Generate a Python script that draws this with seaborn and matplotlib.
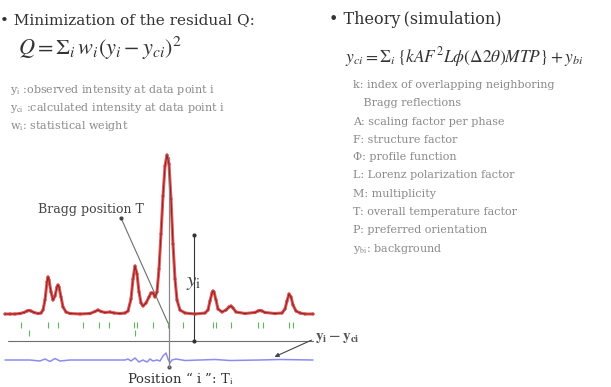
import numpy as np
import pandas as pd
import matplotlib
matplotlib.use("Agg")
import matplotlib.pyplot as plt
import seaborn as sns

# ---------------- data ----------------
# 2theta-like channel positions and intensities of the powder profile
x_prof = [5, 10, 15, 20, 24, 27, 29, 31, 34, 38, 41, 43, 45, 47, 48, 49, 51, 53, 55, 57,
          58, 59, 61, 63, 66, 70, 80, 90, 95, 98, 101, 105, 110, 114, 120, 125, 128, 131,
          133, 135, 137, 139, 141, 143, 146, 149, 151, 153, 155, 157, 159, 161, 163, 165,
          167, 169, 171, 173, 175, 177, 180, 185, 195, 205, 208, 210, 212, 213, 214, 216,
          218, 222, 226, 229, 231, 233, 236, 245, 255, 258, 260, 262, 265, 275, 282, 285,
          287, 289, 291, 293, 296, 300, 305, 313]
y_obs = [0, 0, 0, 0.5, 1.5, 3, 3.5, 3, 1.5, 0.5, 1, 4, 14, 32, 37, 34, 22, 14, 18, 27,
         29, 27, 17, 7, 2, 0.5, 0, 0.5, 2.5, 4, 2.5, 1.5, 2, 1, 0.5, 1, 3, 15,
         35, 48, 40, 22, 11, 8, 11, 17, 21, 21, 17, 22, 45, 80, 118, 148,
         159, 150, 115, 70, 35, 14, 4, 1, 0, 1, 4, 13, 21, 23, 22, 14,
         5, 2, 4, 7, 8, 6, 2, 0.5, 1.5, 3, 3.5, 3, 1.5, 0.5, 1, 5,
         13, 20, 17, 9, 3, 1, 0, 0]

# difference curve (y_i - y_ci), drawn with an offset
x_diff = [5, 30, 40, 45, 50, 55, 58, 60, 70, 100, 125, 128, 131, 135, 139, 143, 147, 150,
          153, 157, 160, 163, 166, 168, 170, 172, 176, 185, 200, 215, 230, 260, 280, 313]
y_diff = [-46, -46, -47, -45, -47.5, -44.5, -46, -47, -46, -46, -46, -45, -47, -44, -48,
          -46, -48, -45, -47, -46, -47, -42, -39, -45, -49, -46, -45, -46.5, -46, -45.5,
          -46.5, -46, -45.5, -46]

# Bragg reflection positions (two phases)
bragg_1 = [21, 48, 58, 83, 99, 109, 134, 137, 153, 168, 183, 213, 216, 231, 258, 263, 289, 293]
bragg_2 = [29, 135]

# texts
title_left = "\u2022 Minimization of the residual Q:"
title_right = "\u2022 Theory\u2009(simulation)"
formula_left = r"$Q=\Sigma_i\,w_i(y_i-y_{ci})^2$"
formula_right = r"$y_{ci}=\Sigma_i\,\{kAF^2L\phi(\Delta 2\theta)MTP\}+y_{bi}$"
notes_left = [r"y$_{\rm i}$ :observed intensity at data point i",
              r"y$_{\rm ci}$ :calculated intensity at data point i",
              r"w$_{\rm i}$: statistical weight"]
notes_right = ["k: index of overlapping neighboring",
               "   Bragg reflections",
               "A: scaling factor per phase",
               "F: structure factor",
               "\u03a6: profile function",
               "L: Lorenz polarization factor",
               "M: multiplicity",
               "T: overall temperature factor",
               "P: preferred orientation",
               r"y$_{\rm bi}$: background"]

# ---------------- figure ----------------
sns.set_theme(style="white")
plt.rcParams["font.family"] = ["DejaVu Serif", "DejaVu Sans"]
plt.rcParams["mathtext.fontset"] = "stix"

W, H = 611, 387
fig = plt.figure(figsize=(W / 100, H / 100), dpi=100)
fig.patch.set_facecolor("white")


def fxy(px, py):
    return px / W, 1 - py / H


# axes for the pattern: pixel x 0..320, y 140..387
ax = fig.add_axes([0, 0, 320 / W, (H - 140) / H])
ax.set_xlim(0, 320)
ax.set_ylim(314 - 387, 314 - 140)
ax.set_axis_off()

df_prof = pd.DataFrame({"x": x_prof, "y": y_obs})
df_diff = pd.DataFrame({"x": x_diff, "y": y_diff})

# observed (red) + calculated (dark)
sns.lineplot(data=df_prof, x="x", y="y", ax=ax, color="#e23a3a", lw=2.2, alpha=0.85,
             sort=False, estimator=None)
sns.scatterplot(data=df_prof, x="x", y="y", ax=ax, color="#e04848", s=5,
                edgecolor="none", zorder=4)
sns.lineplot(data=df_prof, x="x", y="y", ax=ax, color="#7a2020", lw=0.6,
             sort=False, estimator=None, zorder=5)

# difference curve
sns.lineplot(data=df_diff, x="x", y="y", ax=ax, color="#8c8cf0", lw=1.1,
             sort=False, estimator=None)

# Bragg ticks
df_b1 = pd.DataFrame({"x": bragg_1, "y": [-11] * len(bragg_1)})
df_b2 = pd.DataFrame({"x": bragg_2, "y": [-19] * len(bragg_2)})
sns.scatterplot(data=df_b1, x="x", y="y", ax=ax, marker="|", s=18, color="#5cb85c",
                linewidth=0.8)
sns.scatterplot(data=df_b2, x="x", y="y", ax=ax, marker="|", s=18, color="#5cb85c",
                linewidth=0.8)

gray = "#6e6e6e"
# horizontal reference line
ax.plot([8, 313], [-27, -27], color=gray, lw=0.8)
# vertical line through the main peak (position i)
ax.plot([169, 169], [157, -53], color="#888888", lw=0.9, zorder=3)
ax.plot([169], [-53], "o", color="#555555", ms=2)
# Bragg position pointer
ax.plot([121, 168], [96, -9], color=gray, lw=0.8)
ax.plot([121], [96], "o", color="#444444", ms=2)
# y_i arrow
ax.plot([194, 194], [79, -27], color="#333333", lw=0.8)
ax.plot([194, 194], [79, -27], "o", color="#333333", ms=2)
ax.text(194, 31, r"$y_{\rm i}$", fontsize=15, color="#444444", ha="center", va="center")
# y_i - y_ci pointer
ax.annotate("", xy=(272, -44), xytext=(314, -25), annotation_clip=False,
            arrowprops=dict(arrowstyle="-|>", color="#444444", lw=0.8, mutation_scale=6))
ax.text(315, -24, r"$\mathbf{y_{i}-y_{ci}}$", fontsize=11, color="#555555",
        ha="left", va="center", clip_on=False)
ax.text(38, 104, "Bragg position T", fontsize=9, color="#444444", ha="left", va="center")
ax.text(127, -65, "Position \u201c i \u201d: T$_{\\rm i}$", fontsize=9.5, color="#333333",
        ha="left", va="center", clip_on=False)

# ---------------- texts ----------------
dark = "#333333"
light = "#8a8a8a"
fig.text(*fxy(0, 20), title_left, fontsize=11, color=dark, ha="left", va="center")
fig.text(*fxy(329, 20), title_right, fontsize=11.5, color=dark, ha="left", va="center")
fig.text(*fxy(18, 48), formula_left, fontsize=16, color=dark, ha="left", va="center")
fig.text(*fxy(345, 57), formula_right, fontsize=12.5, color=dark, ha="left", va="center")

for i, t in enumerate(notes_left):
    fig.text(*fxy(10, 90 + 18 * i), t, fontsize=8, color=light, ha="left", va="center")

ys_right = [85, 103, 122, 140, 157, 175, 194, 212, 230, 249]
for t, yy in zip(notes_right, ys_right):
    fig.text(*fxy(353, yy), t, fontsize=8, color=light, ha="left", va="center")

fig.savefig("out.png", dpi=100, facecolor="white")
